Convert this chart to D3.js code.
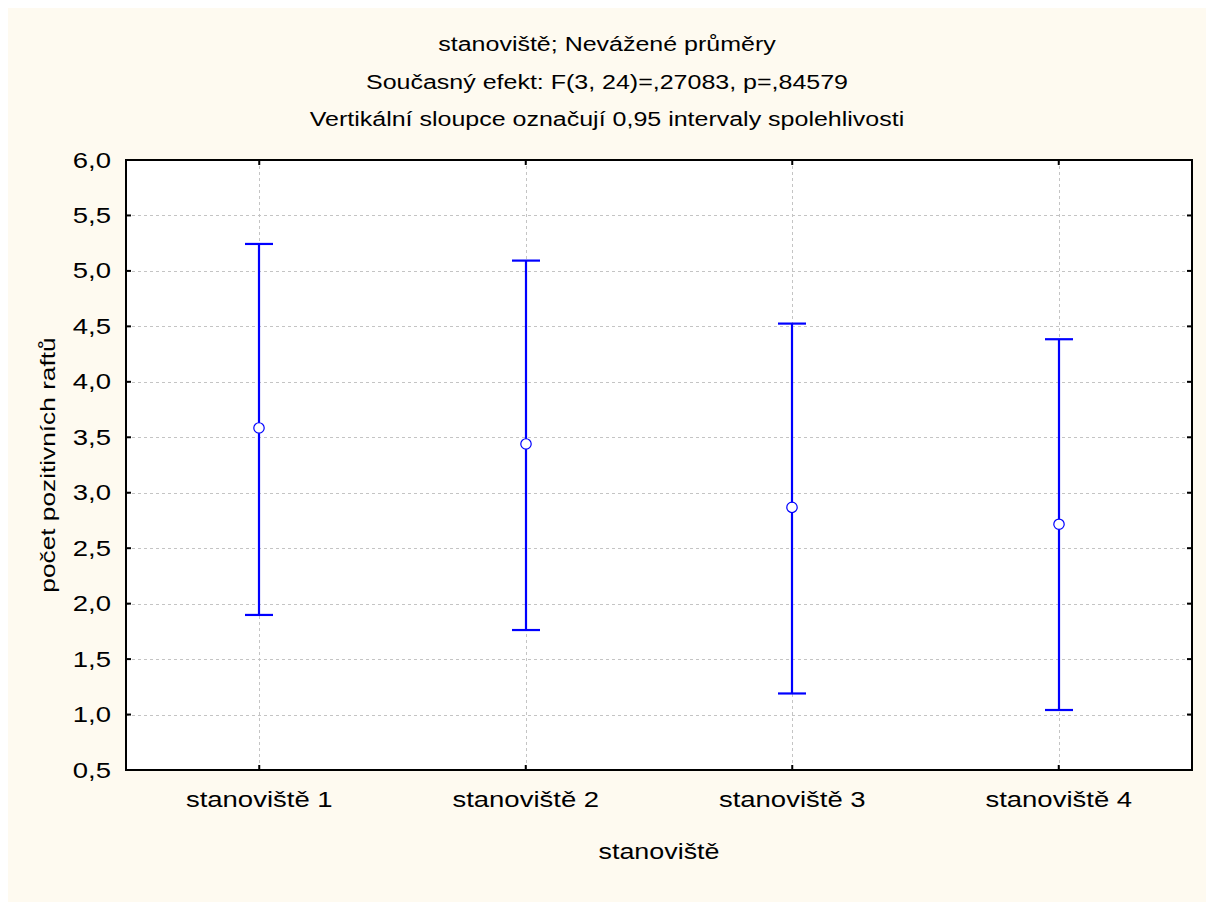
<!DOCTYPE html>
<html><head><meta charset="utf-8">
<script src="https://cdn.jsdelivr.net/npm/d3@7"></script>
<style>body{margin:0;background:#fff}svg{display:block}text{font-family:"Liberation Sans",Arial,sans-serif;fill:#000}</style>
</head><body>
<svg id="chart" width="1214" height="910"></svg>
<script>
const categories = ["stanoviště 1","stanoviště 2","stanoviště 3","stanoviště 4"];
const means = [3.584, 3.44, 2.868, 2.716];
const upper = [5.243, 5.093, 4.525, 4.384];
const lower = [1.898, 1.762, 1.19, 1.041];
const yTicks = [0.5,1.0,1.5,2.0,2.5,3.0,3.5,4.0,4.5,5.0,5.5,6.0];
const titles = ["stanoviště; Nevážené průměry","Současný efekt: F(3, 24)=,27083, p=,84579","Vertikální sloupce označují 0,95 intervaly spolehlivosti"];
const xTitle = "stanoviště";
const yTitle = "počet pozitivních raftů";

const SX = 1.25; // horizontal stretch of the reference's font
const svg = d3.select("#chart");
const W=1214,H=910;
const m={l:126,t:160,r:1192,b:770};
svg.append("rect").attr("x",0).attr("y",0).attr("width",W).attr("height",H).attr("fill","#fff");
svg.append("rect").attr("x",8).attr("y",8).attr("width",W-16).attr("height",H-16).attr("fill","#fefaf0");
svg.append("rect").attr("x",m.l).attr("y",m.t).attr("width",m.r-m.l).attr("height",m.b-m.t).attr("fill","#fff");

const x=d3.scaleBand().domain(categories).range([m.l,m.r]).padding(0);
const y=d3.scaleLinear().domain([0.5,6.0]).range([m.b,m.t]);
const fmt=d=>d.toFixed(1).replace(".",",");

// grid
const g=svg.append("g");
g.selectAll(".hg").data(yTicks.slice(1,-1)).join("line")
 .attr("x1",m.l).attr("x2",m.r).attr("y1",d=>Math.round(y(d))+0.5).attr("y2",d=>Math.round(y(d))+0.5)
 .attr("stroke","#c4c4c4").attr("stroke-dasharray","3,3");
g.selectAll(".vg").data(categories).join("line")
 .attr("x1",d=>Math.round(x(d)+x.bandwidth()/2)+0.5).attr("x2",d=>Math.round(x(d)+x.bandwidth()/2)+0.5)
 .attr("y1",m.t).attr("y2",m.b).attr("stroke","#c4c4c4").attr("stroke-dasharray","3,3");

// axes
const yAxis=d3.axisLeft(y).tickValues(yTicks).tickFormat(fmt).tickSize(0).tickPadding(15);
const ya=svg.append("g").attr("transform",`translate(${m.l},0)`).call(yAxis);
ya.select(".domain").remove();
ya.selectAll("text").attr("font-size",22).attr("font-family","Liberation Sans, Arial, sans-serif").attr("fill","#000")
  .attr("x",-15/SX).attr("transform",`scale(${SX},1)`);
const xAxis=d3.axisBottom(x).tickSize(0).tickPadding(21);
const xa=svg.append("g").attr("transform",`translate(0,${m.b})`).call(xAxis);
xa.select(".domain").remove();
xa.selectAll("text").attr("font-size",22).attr("font-family","Liberation Sans, Arial, sans-serif").attr("fill","#000")
  .attr("transform",`scale(${SX},1)`);

// inward ticks
const tk=svg.append("g").attr("stroke","#000").attr("stroke-width",2);
yTicks.forEach(v=>{
  tk.append("line").attr("x1",m.l).attr("x2",m.l+5).attr("y1",y(v)).attr("y2",y(v));
  tk.append("line").attr("x1",m.r).attr("x2",m.r-5).attr("y1",y(v)).attr("y2",y(v));
});
categories.forEach(c=>{
  const cx=x(c)+x.bandwidth()/2;
  tk.append("line").attr("x1",cx).attr("x2",cx).attr("y1",m.t).attr("y2",m.t+5);
  tk.append("line").attr("x1",cx).attr("x2",cx).attr("y1",m.b).attr("y2",m.b-5);
});

// frame
svg.append("rect").attr("x",m.l).attr("y",m.t).attr("width",m.r-m.l).attr("height",m.b-m.t)
 .attr("fill","none").attr("stroke","#000").attr("stroke-width",2);

// error bars
const eb=svg.append("g");
categories.forEach((c,i)=>{
  const cx=Math.round(x(c)+x.bandwidth()/2);
  eb.append("line").attr("x1",cx).attr("x2",cx).attr("y1",y(upper[i])).attr("y2",y(lower[i])).attr("stroke","#0000ff").attr("stroke-width",2.2);
  [upper[i],lower[i]].forEach(v=>{
    eb.append("line").attr("x1",cx-14).attr("x2",cx+14).attr("y1",y(v)).attr("y2",y(v)).attr("stroke","#0000ff").attr("stroke-width",2.2);
  });
  eb.append("circle").attr("cx",cx).attr("cy",y(means[i])).attr("r",5.2).attr("fill","#fff").attr("stroke","#0000ff").attr("stroke-width",1.2);
});

// titles
svg.selectAll(".title").data(titles).join("text")
 .attr("transform",(d,i)=>`translate(607,${51+i*37.5}) scale(${SX},1)`).attr("text-anchor","middle").attr("font-size",20).text(d=>d);
svg.append("text").attr("transform",`translate(${(m.l+m.r)/2},859) scale(${SX},1)`).attr("text-anchor","middle").attr("font-size",21.5).text(xTitle);
svg.append("text").attr("transform",`translate(55,${(m.t+m.b)/2}) rotate(-90) scale(${SX},1)`).attr("text-anchor","middle").attr("font-size",21).text(yTitle);
</script>
</body></html>
